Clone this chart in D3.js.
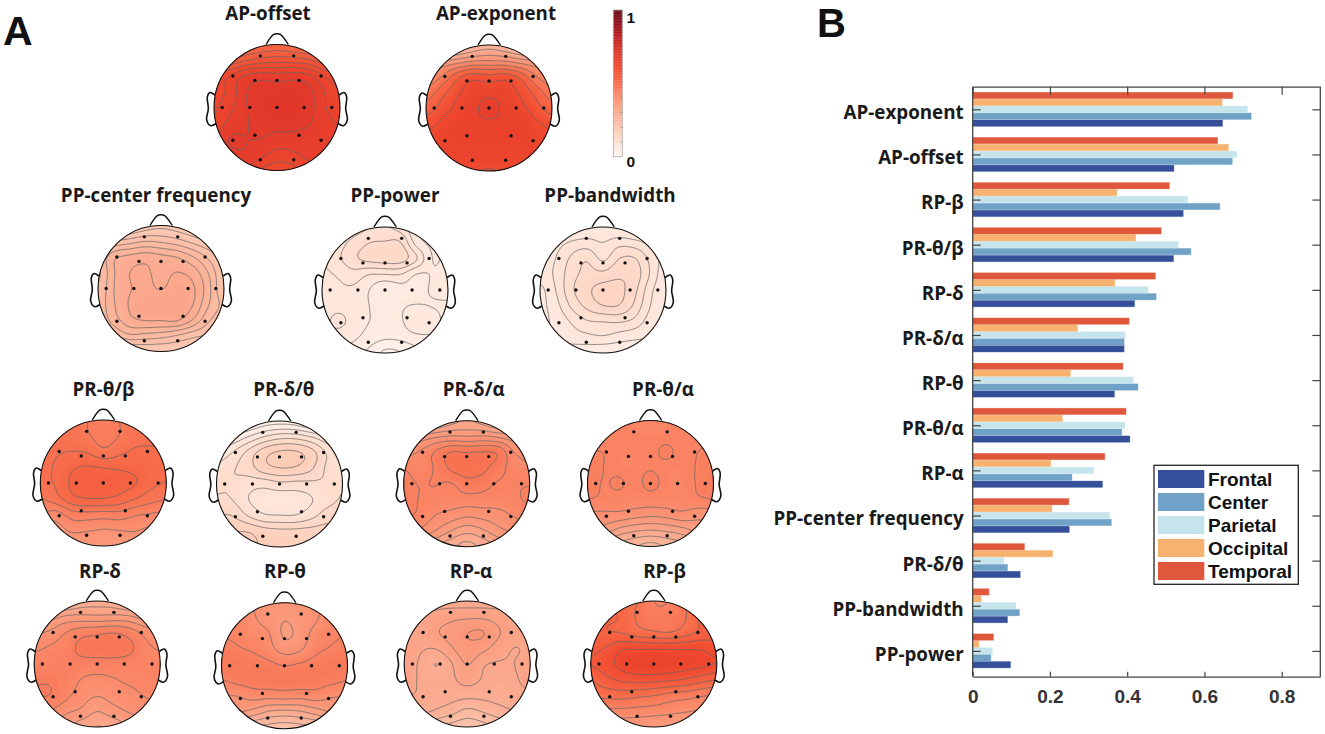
<!DOCTYPE html>
<html><head><meta charset="utf-8">
<style>html,body{margin:0;padding:0;background:#fff}svg{display:block}</style>
<script src="https://cdn.jsdelivr.net/npm/d3@7"></script></head><body>
<svg id="c" width="1325" height="734"></svg>
<script>
// ---------- Panel B data ----------
const barCategories=["AP-exponent","AP-offset","RP-β","PR-θ/β","RP-δ","PR-δ/α","RP-θ","PR-θ/α","RP-α","PP-center frequency","PR-δ/θ","PP-bandwidth","PP-power"];
const regions=["Frontal","Center","Parietal","Occipital","Temporal"];
const frontal=[.647,.521,.545,.520,.419,.392,.367,.407,.336,.250,.123,.090,.098];
const center=[.721,.672,.640,.565,.475,.392,.428,.386,.257,.359,.090,.121,.047];
const parietal=[.711,.684,.556,.532,.454,.395,.416,.394,.313,.354,.080,.112,.051];
const occipital=[.646,.662,.373,.422,.368,.271,.253,.232,.202,.205,.207,.022,.016];
const temporal=[.673,.634,.509,.488,.473,.405,.389,.397,.342,.249,.134,.042,.054];
const regionValues=[frontal,center,parietal,occipital,temporal];
const regionColors=["#354f9b","#6fa2c6","#c5e4ec","#f6b26e","#e0583b"];
const xTicks=[0,.2,.4,.6,.8];
// ---------- Panel A data: scalp field sampled on a 9x9 lattice (x,y = -1..1), in contour-level units ----------
const electrodeX=[-.265,.265,-.70,.70,-.35,0,.35,-.87,-.43,0,.43,.87,-.70,.70,-.35,.35,-.265,.265];
const electrodeY=[-.82,-.82,-.50,-.50,-.43,-.43,-.43,0,0,0,0,0,.52,.52,.44,.44,.83,.83];
const apOffset=[[-1,-1,-.5,0,.3,0,-.5,-1,-1],[.5,1,1.9,2.4,2.6,2.5,2.2,1.2,.5],[3,4.1,5.2,5.6,5.4,5.6,5.3,4,3],[3.5,4.3,5.9,6.5,6.6,6.6,6.3,5,4],[3.8,4.7,5.9,6.6,6.7,6.7,6.4,5.1,4.3],[4.2,5.3,5.9,6.3,6.4,6.4,6.1,5.4,4.9],[5,6.1,6,6,5.6,5.6,5.5,5.3,5],[5.5,5.7,5.9,5.3,4.6,4.8,5.3,5.5,5.5],[5,5,5,3.8,3.4,3.6,4.5,5,5]];
const apExponent=[[-3,-3,-2,-1,-.5,-1,-2,-3,-3],[1,1,1.4,1.9,2,1.9,1.4,1,1],[2,3,4.7,5.6,5.3,5.6,4.7,3,2],[3.3,4.6,5.8,6.6,6.7,6.6,5.8,4.6,3.3],[4.4,5.4,6.3,6.8,7.3,6.8,6.3,5.4,4.4],[5.6,6.2,6.8,6.85,6.85,6.85,6.8,6.2,5.7],[6.3,6.5,6.8,6.8,6.8,6.8,6.8,6.5,6.3],[6.5,6.6,6.6,6.6,6.6,6.6,6.6,6.6,6.5],[6,6,6,6,5.9,6,6,6,6]];
const ppCenter=[[0,0,.5,1.3,1.7,1.4,.8,.3,0],[2,3,3.5,4,3.8,3.4,2.7,2,1.5],[4,5.8,6.3,6.6,6.3,6,5.1,3.8,2.5],[3.7,5.9,7,7.2,6.6,7.05,6.6,5,3],[4,6,6.9,7.3,6.9,7.5,7.2,5.4,3],[4.3,5.9,7.1,7.7,7.8,7.7,7.1,5.1,3.7],[4,5.5,6.7,7.1,7.1,7.2,6,4.2,3.2],[3,3.8,4.8,4.6,4.4,3.9,3.3,2.8,2],[1,1,1.6,2,2,2,1.6,1,1]];
const ppPower=[[2.5,2.5,2.5,2.9,3,2.5,1,.7,.7],[2.2,2.6,3.3,4,4.1,4.1,1.5,.8,.9],[2,2.8,3.8,4.4,4.6,4.6,3.2,.95,1.3],[1.8,2.1,2.6,2,2,2,.9,1.05,1.3],[1.5,1.8,1.8,1,0,.6,.7,1.1,1.2],[1.5,1.7,1.6,1,.6,.9,1.05,.95,.9],[1.6,2.3,1.6,1,.7,.85,1.9,1.4,.7],[1.5,1.5,1.2,.6,.2,.3,.7,.85,.5],[1,1,.5,-.3,-1.3,-1.1,-.3,.3,.5]];
const ppBandwidth=[[0,0,.5,1.1,1.2,.9,.5,0,0],[1,1.5,2.2,2.4,2,2.6,2.4,1.7,1],[1.3,2,3.2,3.9,2.7,4,4.1,2.7,1.5],[1.4,2.2,3.6,4.3,4.3,4.8,4.6,2.9,1.2],[.7,2,3.8,4.8,5.4,5.3,4.3,2.3,1],[.7,1.6,3.2,4.3,5,5,3.8,2,1],[.8,1.2,2.1,2.9,3,3.1,2.7,1.5,1],[1,1.2,1.5,1.7,1.9,1.5,1.2,1,1],[.5,.5,.4,.3,0,.1,.3,.5,.5]];
const prThetaBeta=[[3.4,3.4,3.4,3,2.6,3,3.4,3.4,3.4],[3.6,3.6,3.6,3.1,2.6,3,3.6,3.8,3.8],[3.7,3.9,4,3.9,3.2,3.7,4.15,4.1,4],[3.8,4.1,4.85,5.1,4.95,4.85,4.7,4.4,4.2],[3.8,4.1,5.2,5.6,5.6,5.4,5.1,4.3,3.95],[2.9,3.6,4.7,5,5,4.7,4.05,3.4,3.1],[2,1.5,2.5,2.6,2.5,2.6,2.1,1.9,1.7],[.5,.5,1.2,1.1,.9,1,1.1,.7,.5],[0,0,0,0,0,0,0,0,0]];
const prDeltaTheta=[[-1,-1,-.5,.3,.5,.3,-.5,-1,-1],[.5,1,2,3,3.6,3.6,3,2,1],[2,3,4.3,5.6,6.2,6.2,5.5,3.9,2.8],[3.4,3.9,4.5,5.6,6,5.9,5.2,3.8,3.2],[3.9,3.95,3.4,3.3,3.7,3.6,3.7,3.9,3.9],[4.1,4,3,2.6,2.4,2.5,2.9,3.6,4.1],[5,5,3.9,3.1,3,3,3.6,4.5,4.6],[6,6,6,5.5,5.3,5.3,5.4,5.4,5],[6,6,6,6,5.9,5.5,5.5,5.5,5]];
const prDeltaAlpha=[[-1,-1,-.5,.5,1,.5,-.5,-1,-1],[1.5,2.2,2.8,3.1,3,3.1,2.8,2.2,1.5],[3.6,4.1,5.1,6.1,6,6.1,5.9,4,3.4],[5,4.5,5.1,6.2,6.5,6.3,5.4,4.6,4.2],[5.3,4.95,5.05,4.9,5.6,5.4,4.9,4.9,4.9],[5.4,4.95,4.7,4.6,4.6,4.6,4.5,4.7,5.3],[5.2,4.8,4,3.6,3.2,3.4,3.6,4.1,4.3],[4,3.8,3,2,1.3,1.8,2.7,3.2,4],[2,2,1,.2,-.5,.2,1,2,2]];
const prThetaAlpha=[[4.8,4.8,4.8,4.8,4.4,4.8,4.8,4.8,4.8],[4.8,4.8,4.8,4.8,4.8,4.8,4.8,4.8,4.8],[5,5,4.8,4.8,4.8,5.15,4.8,5,5.2],[5.3,5,4.8,4.8,4.95,4.8,4.8,5.05,5.4],[5.3,4.95,5.1,4.8,5.2,4.8,4.75,5.05,5.4],[5.05,4.8,4.7,4.6,4.6,4.6,4.6,4.85,5.05],[3.7,3.7,3.7,3.4,3.2,3.35,3.7,3.3,3.3],[2.5,2.5,1.6,1.1,.9,1.1,1.5,2.3,2.5],[0,0,-.5,-1,-1.5,-1,-.5,0,0]];
const rpDelta=[[-1,-1,-.5,.3,.5,.3,-.5,-1,-1],[1,1.5,2.2,2.3,2.2,2.3,2.2,1.5,1],[2.8,3.2,4,4.6,4.8,5,4.6,3.7,2.9],[3.8,4.15,4.5,5.3,5.4,5.5,5.3,4.3,3.9],[4.5,4.6,4.7,4.6,4.6,4.6,4.5,4.4,4.3],[4.9,4.9,4.6,3.95,3.7,3.9,4.2,4.3,4.4],[5,5,4.3,3.5,3.05,3.4,3.6,4.05,4.1],[4.2,4,3.2,2.8,2,2.6,3.1,3.4,4],[2.5,2.5,2.2,1.4,.9,1.2,2,2.5,2.5]];
const rpTheta=[[4,4,4,3.7,3.6,3.7,4,4,4],[4.5,4.5,4.1,3.6,3.05,3.5,3.9,4.5,4.5],[4.9,4.8,4.4,4.1,2.8,3.4,4.4,4.8,5],[5.3,5.1,4.9,4.4,3.6,3.9,4.8,5.1,5.3],[5.5,5.5,5.5,5.3,5,5.2,5.4,5.5,5.5],[4.9,5.2,5.4,5.5,5.5,5.5,5.4,5.2,4.95],[3.9,3.9,4.3,4.2,4.3,4.2,4.4,4,4],[3,3,2.5,1.7,1.5,1.7,2.3,3,3],[0,0,-.3,-.5,-.7,-.5,-.3,0,0]];
const rpAlpha=[[3.5,3.5,3.5,3.5,3.5,3.5,3.5,3.5,3.5],[4,4.1,4.4,4.7,4.8,4.8,4.5,3.9,3.8],[4.1,4.2,4.9,5.4,6,6.1,5.1,4.5,4.2],[4.2,4.1,4.05,4.9,5.7,5.3,4.5,3.95,4.2],[4.3,3.9,2.9,3.9,5.1,4.1,3.9,4,4.4],[4.6,3.85,3.6,3.8,4.4,3.9,3.6,3.85,4.4],[4,3.9,3.5,3.4,3.3,3.3,3.4,3.6,3.8],[3.5,3.3,2.9,2.4,1.7,2.1,2.6,3,3.5],[1.5,1.5,1.2,.6,.3,.6,1.2,1.5,1.5]];
const rpBeta=[[3,3,2.4,2,1,1,2.1,3,3],[3.1,3.1,2.9,1.8,1.3,1.5,1.9,3.2,3.2],[3.3,3.05,2.9,2.4,2.1,1.95,2.5,3.2,3.5],[3.7,4.1,4.9,4.9,4.9,4.9,4.9,4.9,4.5],[4.05,4.6,5.4,5.8,5.9,5.7,5.5,5.3,5],[3,3.7,4.2,4.4,4.3,4.2,3.9,3.4,3],[2.3,2.3,2.4,2.2,2,1.6,1.4,1.1,.9],[.7,.7,.7,.6,.5,.3,.1,-.1,-.1],[-.5,-.5,-.7,-.8,-1,-1.1,-1.2,-1.3,-1.3]];
const mapNames=["AP-offset","AP-exponent","PP-center frequency","PP-power","PP-bandwidth","PR-θ/β","PR-δ/θ","PR-δ/α","PR-θ/α","RP-δ","RP-θ","RP-α","RP-β"];
const mapFields=[apOffset,apExponent,ppCenter,ppPower,ppBandwidth,prThetaBeta,prDeltaTheta,prDeltaAlpha,prThetaAlpha,rpDelta,rpTheta,rpAlpha,rpBeta];
const mapBase=[.5,.3,.14,.04,.04,.37,.01,.29,.29,.28,.24,.2,.4];
const mapStep=[.03,.05,.024,.02,.02,.03,.027,.03,.03,.035,.04,.03,.04];
const mapCx=[277,489,161,385,603,103.3,279.5,466.7,650.5,97.2,284.5,467.2,653.8];
const mapCy=[107.5,108,288.5,290,290,483,484,483.7,483.5,664,665.7,664,664];
const titleX=[268,496,156,395,610,103.5,283.8,473.7,663,100,285,471,664.5];
const titleY=[20,20,201.5,201.5,201.5,396,396,396,396,578,578,578,578];
const colorStops=["#fff5f0","#fee0d2","#fcc5ae","#fbab90","#fb8f70","#f76a48","#f0492f","#e0372a","#c4201f","#940d15","#5f0a10"];
const earPts=[[-.984,-.196],[-1.063,-.238],[-1.106,-.169],[-1.09,.016],[-1.116,.2],[-1.05,.29],[-.97,.254]];
const nosePts=[[-.175,-1.0],[-.058,-1.158],[0,-1.17],[.058,-1.158],[.18,-1.0]];

// ---------- Layout ----------
const R=63, FONT="'Open Sans','Liberation Sans',sans-serif", ARIAL="'Liberation Sans',Arial,sans-serif";
const svg=d3.select("#c");
const color=d3.scaleLinear().domain(d3.range(11).map(d=>d/10)).range(colorStops).interpolate(d3.interpolateRgb).clamp(true);
const defs=svg.append("defs");

// ---------- Smooth upsample of a lattice ----------
function cr(p0,p1,p2,p3,t){return .5*((2*p1)+(-p0+p2)*t+(2*p0-5*p1+4*p2-p3)*t*t+(-p0+3*p1-3*p2+p3)*t*t*t);}
function sample(g,u,v){
  const cl=i=>Math.max(0,Math.min(8,i));
  const i=Math.min(7,Math.floor(u)),j=Math.min(7,Math.floor(v)),tx=u-i,ty=v-j;
  const rows=[-1,0,1,2].map(dj=>{const r=g[cl(j+dj)];return cr(r[cl(i-1)],r[cl(i)],r[cl(i+1)],r[cl(i+2)],tx);});
  return cr(rows[0],rows[1],rows[2],rows[3],ty);
}
function smooth(a,n,r){ // two-pass separable box filter with clamped edges
  const out=new Float64Array(a), tmp=new Float64Array(n*n);
  for(let pass=0;pass<2;pass++){
    for(let j=0;j<n;j++)for(let i=0;i<n;i++){let s=0;for(let k=-r;k<=r;k++)s+=out[j*n+Math.max(0,Math.min(n-1,i+k))];tmp[j*n+i]=s/(2*r+1);}
    for(let j=0;j<n;j++)for(let i=0;i<n;i++){let s=0;for(let k=-r;k<=r;k++)s+=tmp[Math.max(0,Math.min(n-1,j+k))*n+i];out[j*n+i]=s/(2*r+1);}
  }
  return out;
}
const N=141;
const line=d3.line().curve(d3.curveCatmullRom);

mapNames.forEach((name,m)=>{
  const cx=mapCx[m],cy=mapCy[m],g=mapFields[m],base=mapBase[m],step=mapStep[m];
  let vals=new Float64Array(N*N);
  for(let j=0;j<N;j++)for(let i=0;i<N;i++)vals[j*N+i]=sample(g,i/(N-1)*8,j/(N-1)*8);
  vals=smooth(vals,N,3);
  const [lo,hi]=d3.extent(vals);
  const head=svg.append("g").attr("transform",`translate(${cx},${cy})`);
  const px=p=>p.map(d=>[d[0]*R,d[1]*R]);
  head.append("path").attr("d",line(px(nosePts))).attr("fill","none").attr("stroke","#111").attr("stroke-width",1.4).attr("stroke-linejoin","round");
  head.append("path").attr("d",line(px(earPts))).attr("fill","none").attr("stroke","#111").attr("stroke-width",1.6);
  head.append("path").attr("d",line(px(earPts.map(d=>[-d[0],d[1]])))).attr("fill","none").attr("stroke","#111").attr("stroke-width",1.6);
  const id="clip"+m;
  defs.append("clipPath").attr("id",id).append("circle").attr("r",R);
  const s=2*R/(N-1);
  const proj=d3.geoPath(d3.geoTransform({point(x,y){this.stream.point((x-.5)*s-R,(y-.5)*s-R);}}));
  const inner=head.append("g").attr("clip-path",`url(#${id})`);
  inner.append("circle").attr("r",R).attr("fill",color(base+step*lo));
  const fine=d3.range(lo,hi,.008/step);
  inner.selectAll("path.f").data(d3.contours().size([N,N]).thresholds(fine)(Array.from(vals)))
    .join("path").attr("class","f").attr("d",proj).attr("fill",d=>color(base+step*d.value));
  const lv=d3.range(Math.ceil(lo),Math.floor(hi)+1);
  inner.selectAll("path.l").data(d3.contours().size([N,N]).thresholds(lv)(Array.from(vals)))
    .join("path").attr("class","l").attr("d",proj).attr("fill","none").attr("stroke","#666").attr("stroke-width",.9).attr("stroke-opacity",.85);
  head.append("circle").attr("r",R).attr("fill","none").attr("stroke","#111").attr("stroke-width",1.1);
  head.selectAll("circle.e").data(electrodeX).join("circle").attr("class","e")
    .attr("cx",d=>d*R).attr("cy",(d,i)=>electrodeY[i]*R).attr("r",1.7).attr("fill","#111");
  svg.append("text").attr("x",titleX[m]).attr("y",titleY[m]).attr("text-anchor","middle")
    .attr("font-family",FONT).attr("font-weight",700).attr("font-size",18.8).attr("fill","#1a1a1a").text(name);
});

// ---------- Colour bar ----------
const cbY=d3.scaleLinear().domain([0,1]).range([156.7,10]);
const cb=svg.append("g");
cb.selectAll("rect").data(d3.range(0,1,.005)).join("rect").attr("x",613.3).attr("width",9)
  .attr("y",d=>cbY(d+.005)).attr("height",cbY(0)-cbY(.005)+.3).attr("fill",d=>color(d));
cb.append("rect").attr("x",613.3).attr("y",10).attr("width",9).attr("height",146.7).attr("fill","none").attr("stroke","#aaa").attr("stroke-width",.8);
cb.selectAll("line").data(d3.range(.1,1,.1)).join("line").attr("x1",620.6).attr("x2",622.3)
  .attr("y1",d=>cbY(d)).attr("y2",d=>cbY(d)).attr("stroke","#777").attr("stroke-width",.6);
[[1,22.5],[0,167]].forEach(d=>svg.append("text").attr("x",626.5).attr("y",d[1]).attr("font-family",ARIAL).attr("font-weight",700).attr("font-size",15.5).attr("fill","#111").text(d[0]));

// ---------- Panel letters ----------
svg.append("text").attr("x",3).attr("y",45).attr("font-family",ARIAL).attr("font-weight",700).attr("font-size",41).attr("fill","#111").text("A");
svg.append("text").attr("x",817).attr("y",36.5).attr("font-family",ARIAL).attr("font-weight",700).attr("font-size",40).attr("fill","#111").text("B");

// ---------- Bars ----------
const x=d3.scaleLinear().domain([0,.9]).range([972.7,1320.3]);
const yTop=86.7,yBot=676.7;
const y=d3.scalePoint().domain(barCategories).range([109.3,650.9]);
const inner=d3.scaleBand().domain(regions.slice().reverse()).range([-17.3,17.3]);
const bars=svg.append("g");
regions.forEach((r,k)=>{
  bars.append("g").selectAll("rect").data(regionValues[k]).join("rect")
    .attr("x",x(0)).attr("y",(d,i)=>y(barCategories[i])+inner(r)+.3)
    .attr("width",d=>x(d)-x(0)).attr("height",inner.bandwidth()-.6)
    .attr("fill",regionColors[k]).attr("stroke",regionColors[k]).attr("stroke-opacity",.5).attr("stroke-width",.7);
});
const AX="#444";
function styleAxis(g){g.select(".domain").attr("stroke",AX).attr("stroke-width",1.3);g.selectAll(".tick line").attr("stroke",AX).attr("stroke-width",1.2);}
svg.append("g").attr("transform",`translate(0,${yBot})`).call(d3.axisBottom(x).tickValues(xTicks).tickFormat(d=>d===0?"0":d3.format(".1f")(d)).tickSize(-5).tickSizeOuter(0).tickPadding(13))
  .call(styleAxis).call(g=>g.selectAll("text").attr("font-family",ARIAL).attr("font-weight",700).attr("font-size",19).attr("fill","#333"));
svg.append("g").attr("transform",`translate(0,${yTop})`).call(d3.axisTop(x).tickValues(xTicks).tickFormat("").tickSize(-8).tickSizeOuter(0)).call(styleAxis);
svg.append("g").attr("transform",`translate(${x(0)},0)`).call(d3.axisLeft(y).tickSize(-8).tickSizeOuter(0).tickPadding(9))
  .call(styleAxis).call(g=>g.select(".domain").remove()).call(g=>g.selectAll("text").attr("font-family",FONT).attr("font-weight",700).attr("font-size",18.8).attr("fill","#1a1a1a").attr("dy","0.5em"));
svg.append("g").attr("transform",`translate(${x(.9)},0)`).call(d3.axisRight(y).tickSize(-8).tickSizeOuter(0).tickFormat(""))
  .call(styleAxis).call(g=>g.select(".domain").remove());
[x(0),x(.9)].forEach(v=>svg.append("line").attr("x1",v).attr("x2",v).attr("y1",yTop).attr("y2",yBot).attr("stroke",AX).attr("stroke-width",1.3));

// ---------- Legend ----------
const lg=svg.append("g");
lg.append("rect").attr("x",1154).attr("y",465.3).attr("width",144.3).attr("height",119).attr("fill","#fff").attr("stroke","#222").attr("stroke-width",1.3);
regions.forEach((r,k)=>{
  lg.append("rect").attr("x",1158).attr("y",470+k*23).attr("width",46.3).attr("height",18).attr("fill",regionColors[k]);
  lg.append("text").attr("x",1208).attr("y",486+k*23).attr("font-family",ARIAL).attr("font-weight",700).attr("font-size",19).attr("fill","#111").text(r);
});
</script></body></html>
